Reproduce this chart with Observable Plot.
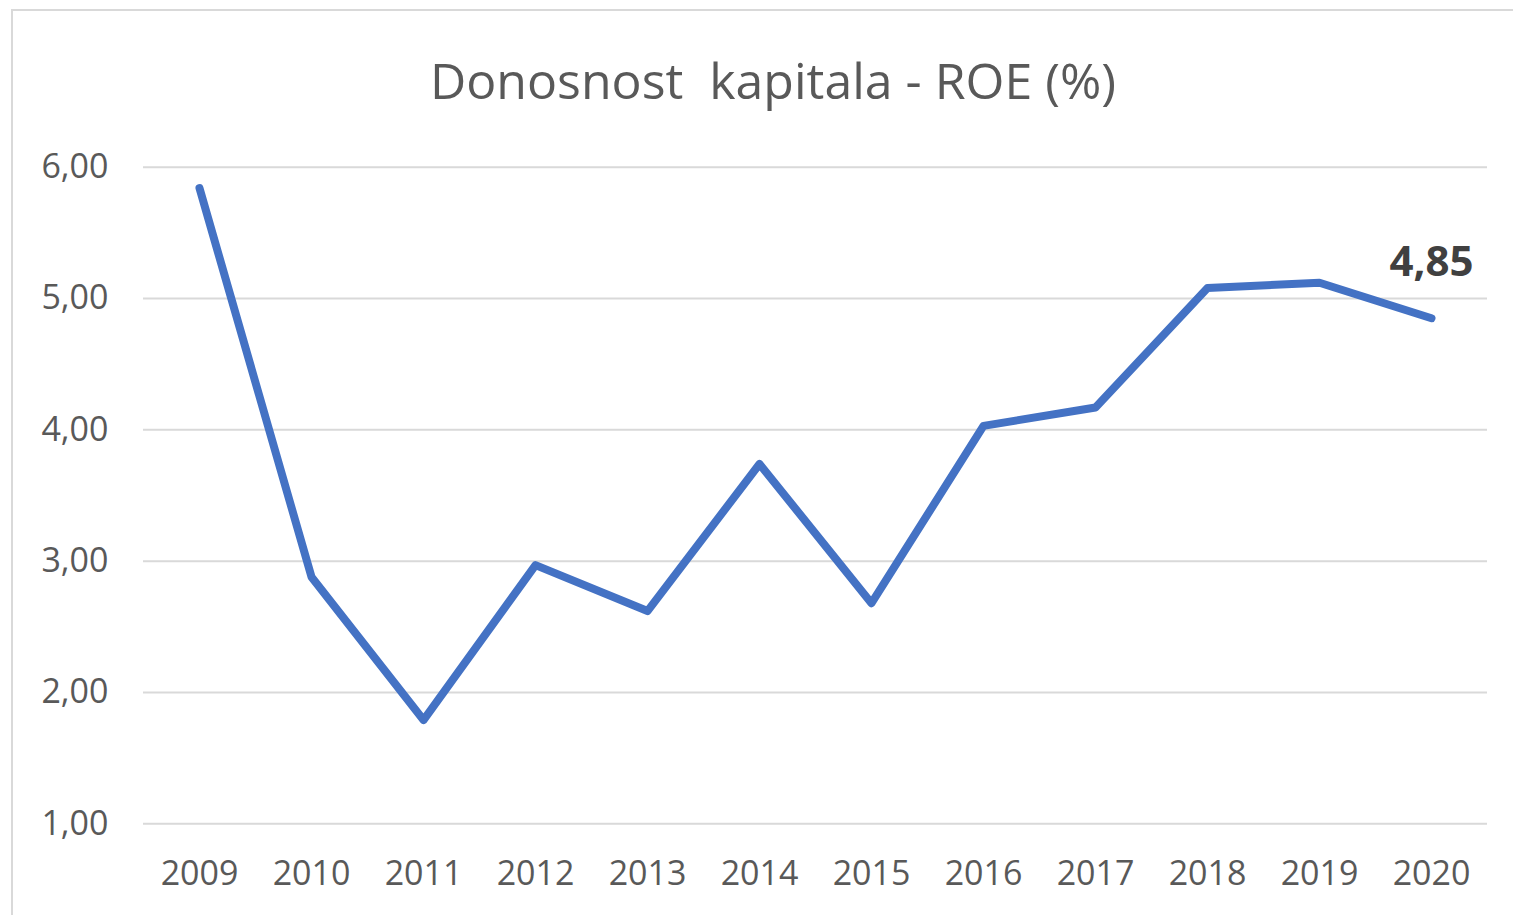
<!DOCTYPE html>
<html>
<head>
<meta charset="utf-8">
<script src="https://cdn.jsdelivr.net/npm/d3@7"></script>
<script src="https://cdn.jsdelivr.net/npm/@observablehq/plot@0.6"></script>
<style>
html, body { margin: 0; padding: 0; background: #ffffff; overflow: hidden; width: 1513px; height: 915px; }
#wrap { position: relative; width: 1513px; height: 915px; overflow: hidden; background: #ffffff; }
#frame { position: absolute; left: 11px; top: 9px; width: 2000px; height: 2000px; border: 2px solid #d9d9d9; box-sizing: border-box; }
#title { position: absolute; left: 0; top: 55px; width: 1546px; text-align: center; font-family: "Open Sans", sans-serif; font-size: 50px; line-height: 50px; color: #595959; white-space: pre; }
#chart { position: absolute; left: 0; top: 0; }
</style>
</head>
<body>
<div id="wrap">
  <div id="frame"></div>
  <div id="chart"></div>
  <div id="title">Donosnost  kapitala - ROE (%)</div>
</div>
<script>
const years = ["2009", "2010", "2011", "2012", "2013", "2014", "2015", "2016", "2017", "2018", "2019", "2020"];
const roe = [5.84, 2.88, 1.79, 2.97, 2.62, 3.74, 2.68, 4.03, 4.17, 5.08, 5.12, 4.85];
const yTicks = [1, 2, 3, 4, 5, 6];
const labelledYears = ["2020"];

const fmt = d => d.toFixed(2).replace(".", ",");
const data = years.map((year, i) => ({ year, roe: roe[i] }));
const labelled = data.filter(d => labelledYears.includes(d.year));

const chart = Plot.plot({
  width: 1513,
  height: 915,
  marginLeft: 143,
  marginRight: 26,
  marginTop: 166.7,
  marginBottom: 91.7,
  style: { fontFamily: "Open Sans, sans-serif", background: "transparent", overflow: "visible" },
  x: { type: "point", domain: years, padding: 0.5, label: null },
  y: { domain: [1, 6], label: null },
  marks: [
    Plot.ruleY(yTicks, { stroke: "#d9d9d9", strokeWidth: 2 }),
    Plot.axisY({ ticks: yTicks, tickSize: 0, tickPadding: 35, tickFormat: fmt, fontSize: 34, color: "#595959", label: null }),
    Plot.axisX({ tickSize: 0, tickPadding: 37, fontSize: 34, color: "#595959", label: null }),
    Plot.line(data, { x: "year", y: "roe", stroke: "#4472C4", strokeWidth: 8, strokeLinecap: "round", strokeLinejoin: "round" }),
    Plot.text(labelled, { x: "year", y: "roe", text: d => fmt(d.roe), dy: -56, fontSize: 42, fontWeight: "bold", fill: "#404040" })
  ]
});
document.getElementById("chart").appendChild(chart);
</script>
</body>
</html>
